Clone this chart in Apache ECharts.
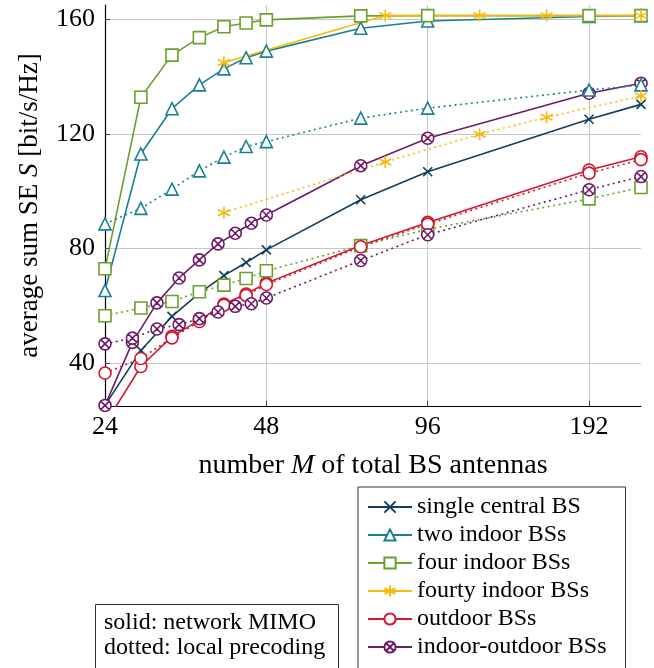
<!DOCTYPE html>
<html>
<head>
<meta charset="utf-8">
<script src="https://cdn.jsdelivr.net/npm/echarts@6/dist/echarts.min.js"></script>
<style>
html, body { margin: 0; padding: 0; background: #fff; }
#chart { width: 654px; height: 668px; }
</style>
</head>
<body>
<div id="chart"></div>
<script>
// antenna counts (x values) per configuration
var mAll = [24, 28, 32, 36, 40, 44, 48, 72, 96, 192, 240];
var mFourty = [40, 80, 120, 160, 240];
var mMixed = [24, 27, 30, 33, 36, 39, 42, 45, 48, 72, 96, 192, 240];

// sum SE values, net = network MIMO (solid), loc = local precoding (dotted)
var singleCentral = [25.2, 44.4, 56.3, 64.4, 70.5, 75.1, 79.5, 97, 106.8, 125.1, 130.3];
var twoIndoorNet = [65.3, 113, 128.8, 137.1, 142.7, 146.6, 148.9, 156.9, 159.4, 161, 161.3];
var twoIndoorLoc = [88.6, 94, 100.7, 107.1, 111.9, 115.6, 117.3, 125.5, 129, 135.3, 137.1];
var fourIndoorNet = [72.9, 132.8, 147.5, 153.6, 157.4, 158.7, 159.8, 161.2, 161.3, 161.3, 161.3];
var fourIndoorLoc = [56.5, 59.2, 61.5, 64.9, 67.2, 69.5, 72.2, 81, 86.7, 97.3, 101.3];
var fourtyNet = [144.9, 161.3, 161.3, 161.3, 161.3];
var fourtyLoc = [92.5, 110.2, 119.9, 125.8, 133.2];
var outdoorNet = [18.7, 38.8, 49.3, 54.9, 60.6, 64.1, 67.9, 81, 89.1, 107.4, 112];
var outdoorLoc = [36.5, 41.6, 48.8, 54.5, 60.2, 63.6, 67.4, 80.6, 88.5, 106.3, 111];
var mixedNet = [25.2, 47.2, 61, 69.7, 76, 81.6, 85.3, 88.8, 91.7, 108.9, 118.5, 134.2, 137.7];
var mixedLoc = [46.7, 48.7, 51.9, 53.4, 55.5, 57.8, 59.8, 60.7, 62.7, 75.8, 84.8, 100.5, 105.1];

var xTicks = [24, 48, 96, 192];
var yTicks = [40, 80, 120, 160];
var names = ['single central BS', 'two indoor BSs', 'four indoor BSs', 'fourty indoor BSs', 'outdoor BSs', 'indoor-outdoor BSs'];

var FONT = 'Liberation Serif';

var SYM = {
    cross: 'path://M0,0L10,10M10,0L0,10',
    tri: 'path://M5,0L10,9L0,9Z',
    sq: 'path://M0,0L10,0L10,10L0,10Z',
    star: 'path://M5,0L5,10M0.67,2.5L9.33,7.5M0.67,7.5L9.33,2.5',
    circ: 'path://M0,5A5,5 0 1 1 10,5A5,5 0 1 1 0,5Z',
    otimes: 'path://M0,5A5,5 0 1 1 10,5A5,5 0 1 1 0,5ZM1.46,1.46L8.54,8.54M8.54,1.46L1.46,8.54'
};

function mkSeries(name, xs, ys, color, sym, size, dotted) {
    var pts = [];
    for (var i = 0; i < xs.length; i++) {
        pts.push([xs[i], ys[i]]);
    }
    return {
        type: 'line',
        name: name,
        data: pts,
        symbol: SYM[sym],
        symbolSize: size,
        showAllSymbol: true,
        clip: true,
        animation: false,
        lineStyle: { color: color, width: 1.6, type: dotted ? [2, 3.5] : 'solid' },
        itemStyle: { color: '#fff', borderColor: color, borderWidth: 1.6 },
        emphasis: { disabled: true }
    };
}

var cBlue = '#123d5f', cTeal = '#1a8093', cGreen = '#6aa02c', cYellow = '#f5b90a', cRed = '#d3172e', cPurple = '#6e1b68';

var series = [
    mkSeries(names[0], mAll, singleCentral, cBlue, 'cross', 9, false),
    mkSeries(names[1], mAll, twoIndoorNet, cTeal, 'tri', 12, false),
    mkSeries(names[2], mAll, fourIndoorNet, cGreen, 'sq', 12, false),
    mkSeries(names[3], mFourty, fourtyNet, cYellow, 'star', 12, false),
    mkSeries(names[4], mAll, outdoorNet, cRed, 'circ', 12, false),
    mkSeries(names[5], mMixed, mixedNet, cPurple, 'otimes', 12, false),
    mkSeries(names[1], mAll, twoIndoorLoc, cTeal, 'tri', 12, true),
    mkSeries(names[2], mAll, fourIndoorLoc, cGreen, 'sq', 12, true),
    mkSeries(names[3], mFourty, fourtyLoc, cYellow, 'star', 12, true),
    mkSeries(names[4], mAll, outdoorLoc, cRed, 'circ', 12, true),
    mkSeries(names[5], mMixed, mixedLoc, cPurple, 'otimes', 12, true)
];

var myChart = echarts.init(document.getElementById('chart'));
myChart.setOption({
    backgroundColor: '#fff',
    animation: false,
    grid: { left: 105, right: 13, top: 5, bottom: 262, containLabel: false },
    xAxis: {
        type: 'log',
        logBase: 2,
        min: 24,
        max: 240,
        name: 'number {i|M} of total BS antennas',
        nameLocation: 'middle',
        nameGap: 46,
        nameTextStyle: {
            fontFamily: FONT, fontSize: 28, color: '#000',
            rich: { i: { fontFamily: FONT, fontSize: 28, fontStyle: 'italic', color: '#000' } }
        },
        axisLine: { show: true, lineStyle: { color: '#000', width: 1.2 } },
        axisTick: { show: true, inside: true, length: 5, customValues: xTicks, lineStyle: { color: '#444' } },
        axisLabel: { customValues: xTicks, fontFamily: FONT, fontSize: 26, color: '#000', margin: 8 },
        splitLine: { show: true, customValues: xTicks, lineStyle: { color: '#c6c6c6', width: 1 } },
        minorTick: { show: false }
    },
    yAxis: {
        type: 'value',
        min: 25,
        max: 165,
        name: 'average sum SE {i|S} [bit/s/Hz]',
        nameLocation: 'middle',
        nameGap: 62,
        nameTextStyle: {
            fontFamily: FONT, fontSize: 27, color: '#000',
            rich: { i: { fontFamily: FONT, fontSize: 27, fontStyle: 'italic', color: '#000' } }
        },
        axisLine: { show: true, lineStyle: { color: '#000', width: 1.2 } },
        axisTick: { show: true, inside: true, length: 5, customValues: yTicks, lineStyle: { color: '#444' } },
        axisLabel: { customValues: yTicks, fontFamily: FONT, fontSize: 26, color: '#000', margin: 10 },
        splitLine: { show: true, customValues: yTicks, lineStyle: { color: '#c6c6c6', width: 1 } }
    },
    legend: {
        data: names,
        orient: 'vertical',
        left: 358,
        top: 487,
        height: 260,
        itemWidth: 44,
        itemHeight: 14,
        itemGap: 4,
        padding: [8, 19, 10, 9],
        borderColor: '#333',
        borderWidth: 1,
        selectedMode: false,
        textStyle: { fontFamily: FONT, fontSize: 24, color: '#000' }
    },
    graphic: [
        {
            type: 'rect',
            left: 95,
            top: 604,
            shape: { width: 243, height: 90 },
            style: { fill: '#fff', stroke: '#333', lineWidth: 1 }
        },
        {
            type: 'text',
            left: 104,
            top: 611,
            style: { text: 'solid: network MIMO', font: '24px "Liberation Serif"', fill: '#000' }
        },
        {
            type: 'text',
            left: 104,
            top: 636,
            style: { text: 'dotted: local precoding', font: '24px "Liberation Serif"', fill: '#000' }
        }
    ],
    series: series
});
window.onresize = myChart.resize;
</script>
</body>
</html>
